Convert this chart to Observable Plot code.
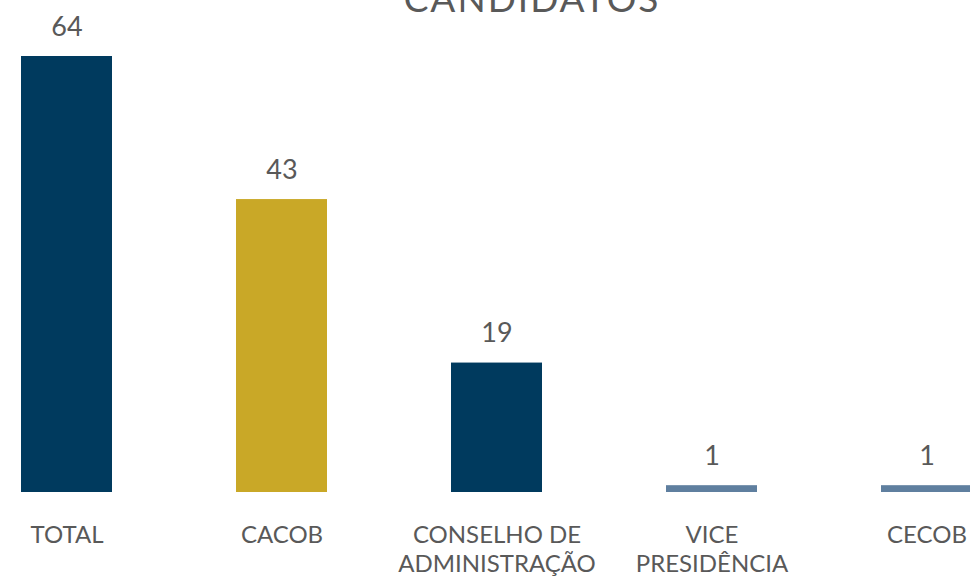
<!DOCTYPE html>
<html>
<head>
<meta charset="utf-8">
<script src="https://cdn.jsdelivr.net/npm/d3@7"></script>
<script src="https://cdn.jsdelivr.net/npm/@observablehq/plot@0.6"></script>
<style>
  html, body { margin: 0; padding: 0; background: #fff; overflow: hidden; }
  #wrap { position: relative; width: 970px; height: 579px; }
  #title { position: absolute; left: 0; width: 1064px; top: -21px; text-align: center;
           font-family: Lato, sans-serif; font-size: 37px; line-height: 37px; color: #595959; letter-spacing: 2px; }
</style>
</head>
<body>
<div id="wrap"><div id="title">CANDIDATOS</div></div>
<script>
const title = "CANDIDATOS";
const categories = ["TOTAL", "CACOB", "CONSELHO DE ADMINISTRAÇÃO", "VICE PRESIDÊNCIA", "CECOB"];
const labels = ["TOTAL", "CACOB", "CONSELHO DE\nADMINISTRAÇÃO", "VICE\nPRESIDÊNCIA", "CECOB"];
const values = [64, 43, 19, 1, 1];
const colors = ["#003A5E", "#C9A827", "#003A5E", "#5F7F9F", "#5F7F9F"];

const data = categories.map((c, i) => ({cat: c, label: labels[i], value: values[i], color: colors[i]}));

const chart = Plot.plot({
  width: 970,
  height: 579,
  marginTop: 0, marginBottom: 0, marginLeft: 0, marginRight: 0,
  style: {fontFamily: "Lato, sans-serif", color: "#595959", background: "transparent", overflow: "visible"},
  x: {domain: categories, range: [21, 972], paddingInner: 0.577, paddingOuter: 0, axis: null},
  y: {domain: [0, 64], range: [492, 56], axis: null},
  marks: [
    Plot.barY(data, {x: "cat", y: "value", fill: "color"}),
    Plot.text(data, {x: "cat", y: "value", text: d => String(d.value), lineAnchor: "bottom", dy: -21, fontSize: 27, fill: "#595959", letterSpacing: "0.5px"}),
    Plot.text(data, {x: "cat", y: 0, text: "label", lineAnchor: "top", dy: 30, fontSize: 24, lineHeight: 1.2, fill: "#595959", letterSpacing: "1.5px"})
  ]
});
document.getElementById("wrap").appendChild(chart);
</script>
</body>
</html>
